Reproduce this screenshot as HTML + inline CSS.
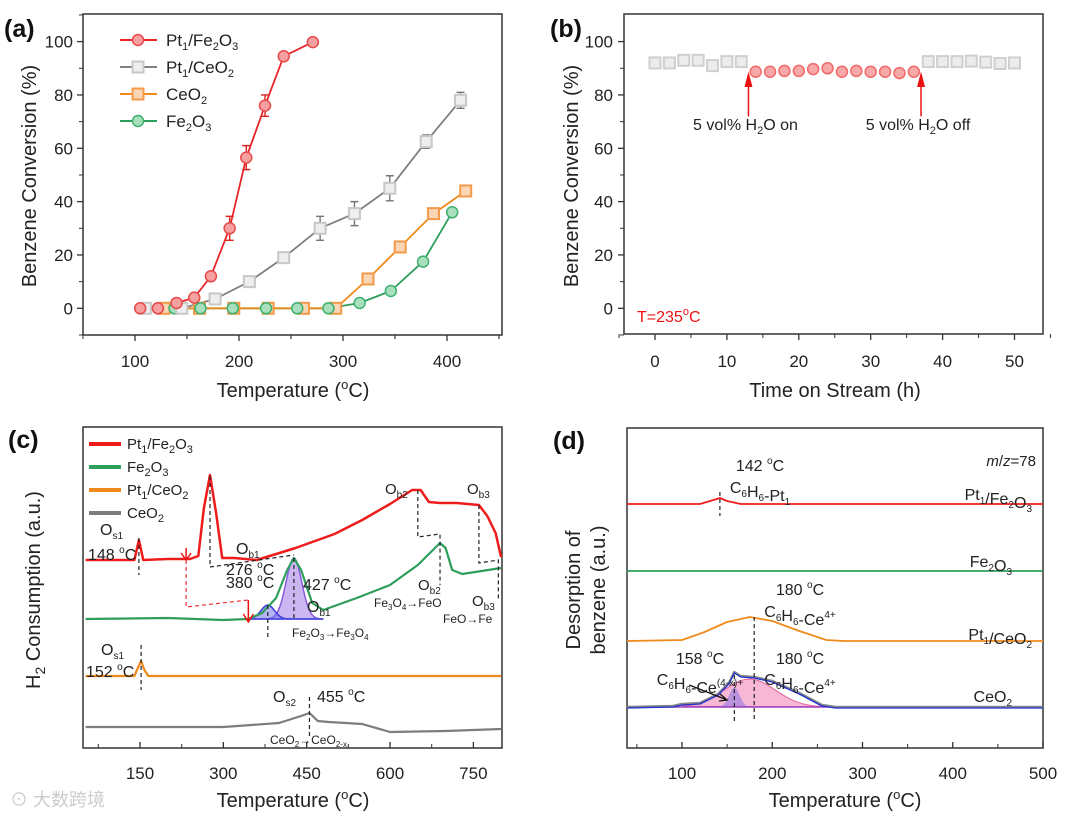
<!DOCTYPE html>
<html><head><meta charset="utf-8"><style>
body{margin:0;background:#fff}
svg{display:block;font-family:"Liberation Sans","Noto Sans CJK SC",sans-serif}
</style></head><body>
<svg id="fig" width="1080" height="817" viewBox="0 0 1080 817" xmlns="http://www.w3.org/2000/svg"></svg>
<script>
// ---------- Panel (a) data ----------
const aRedT=[105,122,140,157,173,191,207,225,243,271];
const aRedV=[0,0,2,4,12,30,56.5,76,94.5,99.8];
const aRedE=[0,0,0,0,0,4.5,4.5,4,0,0];
const aGrayT=[110,145,177,210,243,278,311,345,380,413];
const aGrayV=[0,0,3.5,10,19,30,35.5,45,62.5,78];
const aGrayE=[0,0,0,0,0,4.5,4.5,4.7,2.5,3];
const aOrT=[128,162,195,228,262,293,324,355,387,418];
const aOrV=[0,0,0,0,0,0,11,23,35.5,44];
const aGrT=[138,163,194,226,256,286,316,346,377,405];
const aGrV=[0,0,0,0,0,0,2,6.5,17.5,36];
const aXTicks=[100,200,300,400];
const aYTicks=[0,20,40,60,80,100];
// ---------- Panel (b) data ----------
const bGray1T=[0,2,4,6,8,10,12];
const bGray1V=[92,92,93,93,91,92.5,92.5];
const bRedT=[14,16,18,20,22,24,26,28,30,32,34,36];
const bRedV=[88.7,88.7,89,89,89.7,90,88.7,89,88.7,88.7,88.2,88.7];
const bGray2T=[38,40,42,44,46,48,50];
const bGray2V=[92.5,92.5,92.5,92.7,92.3,91.8,92];
const bXTicks=[0,10,20,30,40,50];
const bYTicks=[0,20,40,60,80,100];
// ---------- Panel (c) data (a.u.) ----------
const cRedT=[52,100,140,148,156,200,240,255,265,276,287,298,320,360,430,500,550,600,640,655,670,690,720,760,775,790,800];
const cRedV=[188,188,188,208,188,189,189,192,240,273,235,190,190,188,200,214,228,244,258,258,246,245,245,243,232,215,191];
const cGrT=[52,200,300,345,370,395,415,427,440,460,480,540,600,650,690,700,712,730,800];
const cGrV=[129,130,128,129,135,150,178,190,178,145,138,150,163,183,205,200,178,174,180];
const cOrT=[52,140,146,152,158,165,800];
const cOrV=[72,72,80,87,78,72,72];
const cGyT=[52,300,400,440,455,470,490,550,600,700,800];
const cGyV=[21,21,25,32,35,27,26,24,16,17,19];
const cXTicks=[150,300,450,600,750];
// ---------- Panel (d) data (a.u.) ----------
const dRedT=[39,120,135,142,150,165,500];
const dRedV=[244,244,248,250,247,244,244];
const dGrT=[39,500];
const dGrV=[177,177];
const dOrT=[39,100,125,150,175,200,230,260,280,500];
const dOrV=[107,108,116,126,131,127,117,108,107,107];
const dGyT=[39,90,100,120,140,152,158,165,180,200,230,255,270,500];
const dGyV=[41,42,44,45,54,65,76,72,71,67,55,43,41,41];
const dXTicks=[100,200,300,400,500];

const NS="http://www.w3.org/2000/svg";
const svg=document.getElementById('fig');
function mk(tag,attrs,parent){const e=document.createElementNS(NS,tag);for(const k in attrs)e.setAttribute(k,attrs[k]);(parent||svg).appendChild(e);return e;}
function txt(x,y,html,size,anchor,fill,parent){const t=mk('text',{x:x,y:y,'font-size':size,'text-anchor':anchor||'middle',fill:fill||'#222'},parent);t.innerHTML=html;return t;}

// axis functions
const ax=T=>135+(T-100)*1.04, ay=v=>308.3-v*2.667;
const bx=t=>655+t*7.19, by=v=>308.3-v*2.667;
const cx=T=>140+(T-150)*0.5556, cy=v=>748-v;
const dx=T=>682+(T-100)*0.9025, dy=v=>748-v;

function frame(x0,y0,x1,y1,name){const r=mk('rect',{x:x0,y:y0,width:x1-x0,height:y1-y0,fill:'none',stroke:'#333','stroke-width':1.5});

}
function poly(T,V,fx,fy,color,w,name){const pts=T.map((t,i)=>fx(t).toFixed(1)+','+fy(V[i]).toFixed(1)).join(' ');
const p=mk('polyline',{points:pts,fill:'none',stroke:color,'stroke-width':w||2,'stroke-linejoin':'round'});

return p;}

// ===== Panel (a) =====
frame(83,14,502,335,'panel-a-frame');
aXTicks.forEach(v=>{mk('line',{x1:ax(v),y1:335,x2:ax(v),y2:341,stroke:'#333','stroke-width':1.3});mk('line',{x1:ax(v+50),y1:335,x2:ax(v+50),y2:339,stroke:'#333','stroke-width':1.2});
const tk=txt(ax(v),367,v,17);});
mk('line',{x1:ax(50),y1:335,x2:ax(50),y2:339,stroke:'#333'});
aYTicks.forEach(v=>{mk('line',{x1:77,y1:ay(v),x2:83,y2:ay(v),stroke:'#333','stroke-width':1.3});mk('line',{x1:79,y1:ay(v-10),x2:83,y2:ay(v-10),stroke:'#333'});
const tk=txt(73,ay(v)+6,v,17,'end');});
mk('line',{x1:79,y1:ay(110),x2:83,y2:ay(110),stroke:'#333'});
function errs(T,V,E,col){T.forEach((t,i)=>{if(E[i]>0){const x=ax(t);mk('path',{d:`M${x},${ay(V[i]-E[i])}V${ay(V[i]+E[i])}M${x-4},${ay(V[i]-E[i])}h8M${x-4},${ay(V[i]+E[i])}h8`,stroke:col,'stroke-width':1.4,fill:'none'});}});}
function circles(T,V,fx,fy,stroke,fill,name,r){T.forEach((t,i)=>{const c=mk('circle',{cx:fx(t),cy:fy(V[i]),r:r||5.5,fill:fill,stroke:stroke,'stroke-width':1.5});

});}
function squares(T,V,fx,fy,stroke,fill,name){T.forEach((t,i)=>{const s=mk('rect',{x:fx(t)-5.5,y:fy(V[i])-5.5,width:11,height:11,fill:fill,stroke:stroke,'stroke-width':2});

});}
poly(aGrT,aGrV,ax,ay,'#2e9e5b',1.8,'a-line-fe2o3');
poly(aOrT,aOrV,ax,ay,'#f08a1c',1.8,'a-line-ceo2');
poly(aGrayT,aGrayV,ax,ay,'#808080',1.8,'a-line-pt-ceo2');
poly(aRedT,aRedV,ax,ay,'#e8262a',1.8,'a-line-pt-fe2o3');
errs(aGrayT,aGrayV,aGrayE,'#777');errs(aRedT,aRedV,aRedE,'#d22');
squares(aOrT,aOrV,ax,ay,'#f39a4a','#fbd6b4','a-point-ceo2');
circles(aGrT,aGrV,ax,ay,'#3fb070','#a8e0bd','a-point-fe2o3');
squares(aGrayT,aGrayV,ax,ay,'#c8c8c8','#eeeeee','a-point-pt-ceo2');
circles(aRedT,aRedV,ax,ay,'#e84a4a','#f7a0a0','a-point-pt-fe2o3');
// legend a
const legA=[['Pt<tspan font-size="11" dy="4">1</tspan><tspan dy="-4">/Fe</tspan><tspan font-size="11" dy="4">2</tspan><tspan dy="-4">O</tspan><tspan font-size="11" dy="4">3</tspan>','#e8262a','c','#f7a0a0','#e84a4a'],
['Pt<tspan font-size="11" dy="4">1</tspan><tspan dy="-4">/CeO</tspan><tspan font-size="11" dy="4">2</tspan>','#808080','s','#eee','#c8c8c8'],
['CeO<tspan font-size="11" dy="4">2</tspan>','#f08a1c','s','#fbd6b4','#f39a4a'],
['Fe<tspan font-size="11" dy="4">2</tspan><tspan dy="-4">O</tspan><tspan font-size="11" dy="4">3</tspan>','#2e9e5b','c','#a8e0bd','#3fb070']];
legA.forEach((l,i)=>{const y=40+i*27;const g=mk('g',{});
mk('line',{x1:120,y1:y,x2:157,y2:y,stroke:l[1],'stroke-width':2},g);
if(l[2]=='c')mk('circle',{cx:138,cy:y,r:5.5,fill:l[3],stroke:l[4],'stroke-width':1.5},g);else mk('rect',{x:132.5,y:y-5.5,width:11,height:11,fill:l[3],stroke:l[4],'stroke-width':2},g);
txt(166,y+6,l[0],17,'start','#222',g);});
let t;
t=txt(4,37,'(a)',25,'start','#111');t.setAttribute('font-weight','bold');
t=txt(293,397,'Temperature (<tspan font-size="13" dy="-8">o</tspan><tspan dy="8">C)</tspan>',20);
t=txt(0,0,'Benzene Conversion (%)',20);t.setAttribute('transform','translate(36,176) rotate(-90)');

// ===== Panel (b) =====
frame(624,14,1043,334,'panel-b-frame');
bXTicks.forEach(v=>{mk('line',{x1:bx(v),y1:334,x2:bx(v),y2:340,stroke:'#333','stroke-width':1.3});mk('line',{x1:bx(v+5),y1:334,x2:bx(v+5),y2:338,stroke:'#333'});
const tk=txt(bx(v),367,v,17);});
mk('line',{x1:bx(-5),y1:334,x2:bx(-5),y2:338,stroke:'#333'});
bYTicks.forEach(v=>{mk('line',{x1:618,y1:by(v),x2:624,y2:by(v),stroke:'#333','stroke-width':1.3});mk('line',{x1:620,y1:by(v-10),x2:624,y2:by(v-10),stroke:'#333'});
const tk=txt(613,by(v)+6,v,17,'end');});
squares(bGray1T,bGray1V,bx,by,'#cfcfcf','#ececec','b-point-dry');
circles(bRedT,bRedV,bx,by,'#f06a6a','#f7a8a8','b-point-wet');
squares(bGray2T,bGray2V,bx,by,'#cfcfcf','#ececec','b-point-dry');
[[13,'5 vol% H<tspan font-size="11" dy="4">2</tspan><tspan dy="-4">O on</tspan>'],[37,'5 vol% H<tspan font-size="11" dy="4">2</tspan><tspan dy="-4">O off</tspan>']].forEach(a=>{
const g=mk('g',{});
mk('line',{x1:bx(a[0]),y1:by(72),x2:bx(a[0]),y2:by(84),stroke:'#e11','stroke-width':1.5},g);
mk('path',{d:`M${bx(a[0])-4},${by(83)}L${bx(a[0])},${by(88)-2}L${bx(a[0])+4},${by(83)}Z`,fill:'#e11'},g);
txt(bx(a[0])-3,130,a[1],16,'middle','#222',g);});
t=txt(637,322,'T=235<tspan font-size="11" dy="-7">o</tspan><tspan dy="7">C</tspan>',16,'start','#e11');
t=txt(550,37,'(b)',25,'start','#111');t.setAttribute('font-weight','bold');
t=txt(835,397,'Time on Stream (h)',20);
t=txt(0,0,'Benzene Conversion (%)',20);t.setAttribute('transform','translate(578,176) rotate(-90)');

// ===== Panel (c) =====
frame(83,427,502,748,'panel-c-frame');
cXTicks.forEach(v=>{mk('line',{x1:cx(v),y1:748,x2:cx(v),y2:742,stroke:'#333','stroke-width':1.3});mk('line',{x1:cx(v-75),y1:748,x2:cx(v-75),y2:744,stroke:'#333'});
const tk=txt(cx(v),779,v,17);});
// fitted peaks
const gauss=(c,w,h)=>{let s='';for(let T=345;T<=480;T+=3){s+=cx(T).toFixed(1)+','+cy(129+h*Math.exp(-Math.pow((T-c)/w,2))).toFixed(1)+' ';}return s;};
t=mk('polygon',{points:gauss(427,20,61),fill:'#a07ae8','fill-opacity':0.55,stroke:'#8a5ae0','stroke-width':1.5});
t=mk('polygon',{points:gauss(380,17,14),fill:'#6a6ae8','fill-opacity':0.5,stroke:'#3a3ae0','stroke-width':1.5});
mk('line',{x1:cx(345),y1:cy(129),x2:cx(480),y2:cy(129),stroke:'#5050e0','stroke-width':1.5});
poly(cGyT,cGyV,cx,cy,'#7d7d7d',2.2,'c-line-ceo2');
poly(cOrT,cOrV,cx,cy,'#f08a1c',2.2,'c-line-pt-ceo2');
poly(cGrT,cGrV,cx,cy,'#2e9e5b',2.2,'c-line-fe2o3');
poly(cRedT,cRedV,cx,cy,'#ee1c1c',2.5,'c-line-pt-fe2o3');
// dashed guides
const dash=(d,c)=>mk('path',{d:d,stroke:c||'#222','stroke-width':1.2,fill:'none','stroke-dasharray':'4,3'});
dash(`M${cx(148)},538V575`);dash(`M${cx(276)},476V567L${cx(427)},555`);dash(`M${cx(380)},605V640`);dash(`M${cx(427)},558V618`);
dash(`M${cx(650)},490V537L${cx(690)},534V585`);dash(`M${cx(760)},505V563L${cx(795)},560V600`);
dash(`M${cx(152)},645V690`);dash(`M${cx(455)},697V738`);
dash(`M${cx(233)},560V607L${cx(345)},600`,'#e83030');
mk('path',{d:`M${cx(233)},548V558M${cx(233)-5},553L${cx(233)},560L${cx(233)+5},553M${cx(345)},600V622M${cx(345)-5},614L${cx(345)},622L${cx(345)+5},614`,stroke:'#e11','stroke-width':1.5,fill:'none'});
const sub=(a,b)=>a+'<tspan font-size="10" dy="4">'+b+'</tspan><tspan dy="-4"> </tspan>';
const deg='<tspan font-size="10" dy="-7">o</tspan><tspan dy="7">C</tspan>';
[[100,535,sub('O','s1'),16],[88,560,'148 '+deg,16],[236,554,sub('O','b1'),16],[226,575,'276 '+deg,16],[303,590,'427 '+deg,16],[226,588,'380 '+deg,16],[307,612,sub('O','b1'),16],
[385,494,sub('O','b2'),15],[467,494,sub('O','b3'),15],[418,590,sub('O','b2'),15],[374,607,'Fe<tspan font-size="8" dy="3">3</tspan><tspan dy="-3">O</tspan><tspan font-size="8" dy="3">4</tspan><tspan dy="-3">→FeO</tspan>',12],
[472,606,sub('O','b3'),15],[443,623,'FeO→Fe',12],[292,637,'Fe<tspan font-size="8" dy="3">2</tspan><tspan dy="-3">O</tspan><tspan font-size="8" dy="3">3</tspan><tspan dy="-3">→Fe</tspan><tspan font-size="8" dy="3">3</tspan><tspan dy="-3">O</tspan><tspan font-size="8" dy="3">4</tspan>',12],
[101,655,sub('O','s1'),16],[86,677,'152 '+deg,16],[273,702,sub('O','s2'),16],[317,702,'455 '+deg,16],[270,744,'CeO<tspan font-size="8" dy="3">2</tspan><tspan dy="-3">→CeO</tspan><tspan font-size="8" dy="3">2-x</tspan>',12]
].forEach(a=>{const tt=txt(a[0],a[1],a[2],a[3],'start','#222');});
// legend c
[['Pt<tspan font-size="11" dy="4">1</tspan><tspan dy="-4">/Fe</tspan><tspan font-size="11" dy="4">2</tspan><tspan dy="-4">O</tspan><tspan font-size="11" dy="4">3</tspan>','#ee1c1c'],
['Fe<tspan font-size="11" dy="4">2</tspan><tspan dy="-4">O</tspan><tspan font-size="11" dy="4">3</tspan>','#2e9e5b'],
['Pt<tspan font-size="11" dy="4">1</tspan><tspan dy="-4">/CeO</tspan><tspan font-size="11" dy="4">2</tspan>','#f08a1c'],
['CeO<tspan font-size="11" dy="4">2</tspan>','#7d7d7d']].forEach((l,i)=>{const y=444+i*23;const g=mk('g',{});
mk('line',{x1:89,y1:y,x2:121,y2:y,stroke:l[1],'stroke-width':4},g);txt(127,y+5,l[0],15,'start','#222',g);});
t=txt(8,448,'(c)',25,'start','#111');t.setAttribute('font-weight','bold');
t=txt(293,807,'Temperature (<tspan font-size="13" dy="-8">o</tspan><tspan dy="8">C)</tspan>',20);
t=txt(0,0,'H<tspan font-size="14" dy="5">2</tspan><tspan dy="-5"> Consumption (a.u.)</tspan>',20);t.setAttribute('transform','translate(40,590) rotate(-90)');
t=txt(10,806,'⊙ 大数跨境',18,'start','#ccc');

// ===== Panel (d) =====
frame(627,428,1043,748,'panel-d-frame');
dXTicks.forEach(v=>{mk('line',{x1:dx(v),y1:748,x2:dx(v),y2:742,stroke:'#333','stroke-width':1.3});mk('line',{x1:dx(v-50),y1:748,x2:dx(v-50),y2:744,stroke:'#333'});
const tk=txt(dx(v),779,v,17);});
// fits
let ps='';for(let T=100;T<=280;T+=4){ps+=dx(T).toFixed(1)+','+dy(41+28*Math.exp(-Math.pow((T-175)/40,2))).toFixed(1)+' ';}
t=mk('polygon',{points:ps,fill:'#f4a0c8','fill-opacity':0.75,stroke:'#e060a0'});
ps='';for(let T=140;T<=176;T+=3){ps+=dx(T).toFixed(1)+','+dy(41+20*Math.exp(-Math.pow((T-158)/8,2))).toFixed(1)+' ';}
t=mk('polygon',{points:ps,fill:'#a080e0','fill-opacity':0.7});
mk('line',{x1:dx(39),y1:dy(41),x2:dx(500),y2:dy(41),stroke:'#a040c0','stroke-width':1.5});
poly(dGyT,dGyV,dx,dy,'#888',2.5,'d-line-ceo2');
poly(dGyT,dGyV.map(v=>v-1),dx,dy,'#2030d0',1.3,'d-fit-envelope');
poly(dOrT,dOrV,dx,dy,'#f08a1c',1.8,'d-line-pt-ceo2');
poly(dGrT,dGrV,dx,dy,'#2e9e5b',1.8,'d-line-fe2o3');
poly(dRedT,dRedV,dx,dy,'#ee1c1c',1.8,'d-line-pt-fe2o3');
dash(`M${dx(142)},492V516`);dash(`M${dx(180)},617V720`);dash(`M${dx(158)},675V722`);
mk('path',{d:`M${dx(108)},685L${dx(150)},700M${dx(150)-7},694L${dx(150)},700L${dx(150)-8},701`,stroke:'#111','stroke-width':1.3,fill:'none'});
const dsub=(s)=>'<tspan font-size="10" dy="4">'+s+'</tspan><tspan dy="-4"></tspan>';
[[1036,466,'<tspan font-style="italic">m</tspan>/<tspan font-style="italic">z</tspan>=78',15,'end'],
[760,471,'142 '+deg,16,'middle'],[760,493,'C'+dsub('6')+'H'+dsub('6')+'-Pt'+dsub('1'),16,'middle'],
[1032,500,'Pt'+dsub('1')+'/Fe'+dsub('2')+'O'+dsub('3'),16,'end'],[1012,567,'Fe'+dsub('2')+'O'+dsub('3'),16,'end'],
[800,595,'180 '+deg,16,'middle'],[800,617,'C'+dsub('6')+'H'+dsub('6')+'-Ce<tspan font-size="10" dy="-7">4+</tspan><tspan dy="7"></tspan>',16,'middle'],
[1032,640,'Pt'+dsub('1')+'/CeO'+dsub('2'),16,'end'],
[700,664,'158 '+deg,16,'middle'],[700,685,'C'+dsub('6')+'H'+dsub('6')+'-Ce<tspan font-size="10" dy="-7">(4-x)+</tspan><tspan dy="7"></tspan>',16,'middle'],
[800,664,'180 '+deg,16,'middle'],[800,685,'C'+dsub('6')+'H'+dsub('6')+'-Ce<tspan font-size="10" dy="-7">4+</tspan><tspan dy="7"></tspan>',16,'middle'],
[1012,702,'CeO'+dsub('2'),16,'end']
].forEach(a=>{const tt=txt(a[0],a[1],a[2],a[3],a[4],'#222');});
t=txt(553,449,'(d)',25,'start','#111');t.setAttribute('font-weight','bold');
t=txt(845,807,'Temperature (<tspan font-size="13" dy="-8">o</tspan><tspan dy="8">C)</tspan>',20);
t=txt(0,0,'Desorption of',20);t.setAttribute('transform','translate(580,590) rotate(-90)');
t=txt(0,0,'benzene (a.u.)',20);t.setAttribute('transform','translate(605,590) rotate(-90)');
</script>
</body></html>
